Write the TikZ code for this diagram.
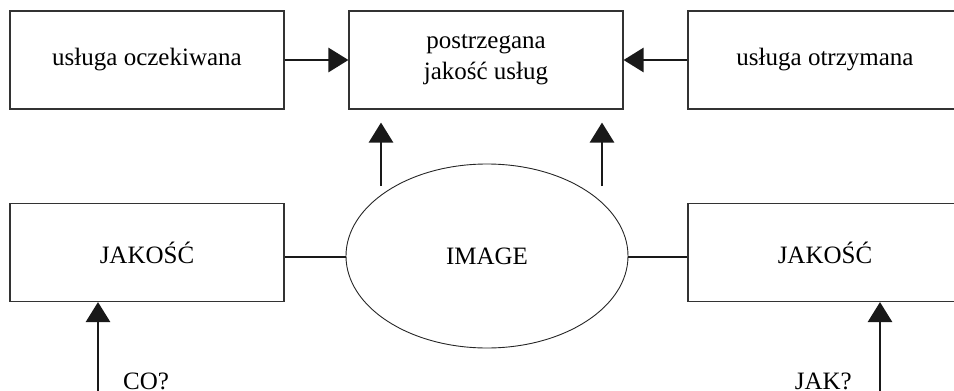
\documentclass[tikz,border=0pt]{standalone}
\usepackage{fontspec}
\setmainfont{Liberation Serif}
\usetikzlibrary{arrows.meta,shapes.geometric,calc}

\tikzset{
  box/.style={draw=black!80, line width=1.1pt, minimum width=274pt, minimum height=98pt,
    inner sep=0pt, align=center, font=\fontsize{25}{31}\selectfont},
  oval/.style={draw=black!85, line width=0.9pt, ellipse, minimum width=282pt, minimum height=184pt,
    inner sep=0pt, font=\fontsize{25}{31}\selectfont},
  arr/.style={line width=2.8pt, draw=black!90, -{Triangle[width=24pt,length=20pt]}},
  link/.style={line width=2.8pt, draw=black!90},
  lbl/.style={inner sep=0pt, font=\fontsize{25}{31}\selectfont},
}

\begin{document}
\begin{tikzpicture}[x=1pt,y=1pt]
  \useasboundingbox (0,0) rectangle (954,-391);
  \clip (0,0) rectangle (954,-391);

  % top row
  \node[box] (oczek) at (147,-60) {usługa oczekiwana};
  \node[box] (postr) at (486,-60) {postrzegana\\jakość usług};
  \node[box] (otrzym) at (825,-60) {usługa otrzymana};

  % bottom row
  \node[box] (jakL) at (147,-252.5) {JAKOŚĆ};
  \node[oval] (image) at (487,-256) {IMAGE};
  \node[box] (jakR) at (825,-252.5) {JAKOŚĆ};

  % arrows into the perceived quality box
  \draw[arr] (oczek.east) -- (postr.west);
  \draw[arr] (otrzym.west) -- (postr.east);

  \coordinate (upL) at (381,-186);
  \coordinate (upR) at (602,-186);
  \draw[arr, shorten >=13pt] (upL) -- (upL |- postr.south);
  \draw[arr, shorten >=13pt] (upR) -- (upR |- postr.south);

  % links between image and quality boxes
  \draw[link] (jakL.east |- 0,-257) -- (image.west |- 0,-257);
  \draw[link] (image.east |- 0,-257) -- (jakR.west |- 0,-257);

  % incoming arrows from below
  \coordinate (inL) at (98,-400);
  \coordinate (inR) at (880,-400);
  \draw[arr] (inL) -- (inL |- jakL.south);
  \draw[arr] (inR) -- (inR |- jakR.south);

  \node[lbl, anchor=base west] (co) at (123,-389) {CO?};
  \node[lbl, anchor=base east] (jak) at (852,-389) {JAK?};
\end{tikzpicture}
\end{document}
